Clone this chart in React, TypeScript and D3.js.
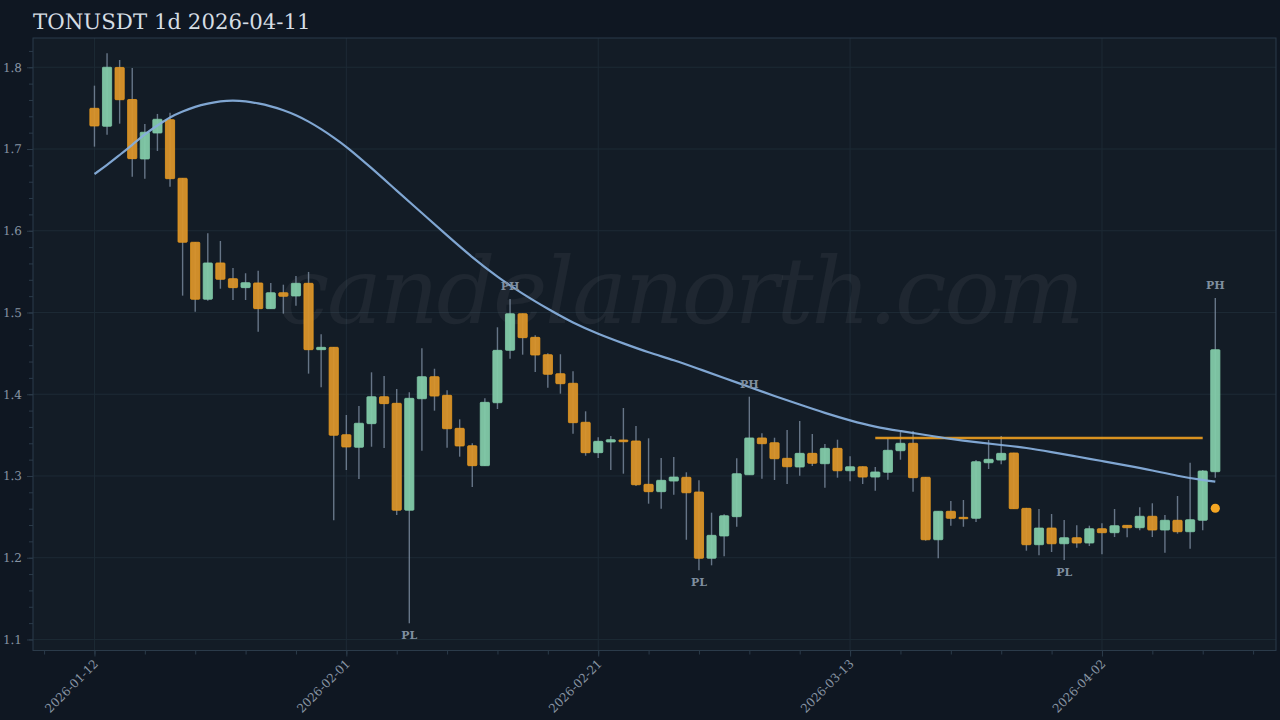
import { useEffect, useRef } from "react";
import * as d3 from "d3";

const WIDTH = 1280;
const HEIGHT = 720;
const MARGIN = { top: 38, right: 4, bottom: 69.5, left: 33 };

const opens = [
  1.7498, 1.7278, 1.7998, 1.7606, 1.6878, 1.7196, 1.7359, 1.6642, 1.5859, 1.5162,
  1.5606, 1.5414, 1.5304, 1.5361, 1.5047, 1.5242, 1.5202, 1.5357, 1.4545, 1.4574,
  1.3505, 1.3351, 1.364, 1.397, 1.3889, 1.2581, 1.3945, 1.4215, 1.3987, 1.3583,
  1.337, 1.3126, 1.3896, 1.4537, 1.4985, 1.4696, 1.4484, 1.4251, 1.4134, 1.3657,
  1.3285, 1.3416, 1.344, 1.3428, 1.2898, 1.2808, 1.2938, 1.2984, 1.2804, 1.1993,
  1.2266, 1.2502, 1.3015, 1.3465, 1.3407, 1.3216, 1.311, 1.3277, 1.315, 1.3338,
  1.3064, 1.3113, 1.2987, 1.3045, 1.3309, 1.34, 1.2984, 1.222, 1.2568, 1.2494,
  1.2482, 1.3162, 1.3195, 1.3281, 1.2604, 1.2159, 1.2363, 1.2171, 1.2245, 1.218,
  1.2355, 1.2306, 1.2396, 1.2367, 1.2507, 1.2339, 1.2458, 1.2318, 1.2458, 1.3052,
];
const highs = [
  1.7775, 1.8171, 1.8089, 1.7991, 1.7306, 1.7429, 1.7445, 1.6645, 1.5863, 1.5969,
  1.5875, 1.5545, 1.548, 1.5512, 1.5361, 1.534, 1.5447, 1.5496, 1.4734, 1.4578,
  1.3746, 1.3856, 1.4268, 1.4223, 1.4064, 1.4024, 1.4562, 1.4312, 1.4048, 1.3693,
  1.34, 1.395, 1.4819, 1.5165, 1.4988, 1.4721, 1.4501, 1.4489, 1.428, 1.3791,
  1.3473, 1.3489, 1.3832, 1.3611, 1.3461, 1.322, 1.3232, 1.3045, 1.2947, 1.2551,
  1.2531, 1.3216, 1.397, 1.3522, 1.3468, 1.3562, 1.3672, 1.3513, 1.3391, 1.3444,
  1.3241, 1.3118, 1.311, 1.3461, 1.3542, 1.355, 1.2988, 1.2571, 1.2694, 1.2706,
  1.3195, 1.344, 1.3489, 1.3285, 1.261, 1.2596, 1.2535, 1.2461, 1.2396, 1.2392,
  1.2421, 1.2596, 1.24, 1.2617, 1.2666, 1.2523, 1.2755, 1.3162, 1.3073, 1.5177,
];
const lows = [
  1.7029, 1.7175, 1.731, 1.6661, 1.6637, 1.6976, 1.6539, 1.5206, 1.501, 1.5144,
  1.5291, 1.5153, 1.5153, 1.4765, 1.5043, 1.4986, 1.5083, 1.4252, 1.4085, 1.2458,
  1.3073, 1.2963, 1.3358, 1.3342, 1.2523, 1.1198, 1.3309, 1.3799, 1.3346, 1.3236,
  1.2865, 1.3122, 1.3819, 1.4435, 1.4484, 1.4272, 1.408, 1.4007, 1.3517, 1.3248,
  1.322, 1.3073, 1.3028, 1.2877, 1.2661, 1.26, 1.2771, 1.222, 1.1846, 1.1907,
  1.2017, 1.2379, 1.3015, 1.2967, 1.2951, 1.2902, 1.3003, 1.3122, 1.2856, 1.2979,
  1.2935, 1.2902, 1.282, 1.2954, 1.3199, 1.2808, 1.2208, 1.1993, 1.2392, 1.2379,
  1.2437, 1.3085, 1.3143, 1.2595, 1.2086, 1.2029, 1.207, 1.1972, 1.2123, 1.2143,
  1.2042, 1.2253, 1.225, 1.2335, 1.2253, 1.2061, 1.2294, 1.211, 1.2335, 1.2979,
];
const closes = [
  1.7282, 1.8, 1.7603, 1.6882, 1.7205, 1.7364, 1.6637, 1.5859, 1.5162, 1.5606,
  1.5406, 1.5304, 1.5365, 1.5047, 1.5242, 1.5198, 1.5357, 1.4545, 1.4574, 1.3498,
  1.3355, 1.3645, 1.397, 1.3885, 1.2581, 1.395, 1.4215, 1.3978, 1.3578, 1.3367,
  1.3126, 1.3901, 1.4537, 1.4985, 1.4692, 1.448, 1.4244, 1.4129, 1.3652, 1.3285,
  1.3424, 1.3444, 1.3419, 1.2893, 1.2808, 1.2947, 1.2987, 1.2795, 1.1993, 1.2274,
  1.2514, 1.3028, 1.3465, 1.3395, 1.3211, 1.3113, 1.3277, 1.3155, 1.3338, 1.3064,
  1.3113, 1.2987, 1.3049, 1.3314, 1.34, 1.2979, 1.222, 1.2568, 1.2482, 1.2477,
  1.3175, 1.3204, 1.3277, 1.26, 1.2159, 1.2363, 1.2171, 1.2245, 1.218, 1.2355,
  1.2306, 1.2392, 1.2367, 1.2507, 1.2339, 1.2458, 1.2318, 1.2465, 1.3061, 1.4545,
];

// smoothed average
const avgDays = [
  0, 1, 2, 3, 4, 5, 6, 7, 8, 9, 10, 11, 12, 13, 14, 15, 16, 17, 18, 19, 20, 22, 24, 26,
  28, 30, 32, 34, 36, 38, 40, 42, 44, 46, 48, 50, 52, 54, 56, 58, 60, 62, 64, 66, 68,
  70, 72, 74, 76, 78, 80, 82, 84, 86, 88, 89,
];
const avgValues = [
  1.6694, 1.6804, 1.6927, 1.7049, 1.7184, 1.7288, 1.7392, 1.7459, 1.752, 1.7557, 1.7585,
  1.7595, 1.7584, 1.7559, 1.7524, 1.7477, 1.7416, 1.7337, 1.7245, 1.7141, 1.7031, 1.6768,
  1.649, 1.6217, 1.5942, 1.5673, 1.5434, 1.5226, 1.5043, 1.4871, 1.4737, 1.4621, 1.451,
  1.4419, 1.4309, 1.4199, 1.4088, 1.3978, 1.3874, 1.377, 1.3679, 1.3599, 1.355, 1.3501,
  1.3452, 1.3412, 1.3379, 1.3346, 1.3293, 1.3238, 1.3183, 1.3128, 1.3069, 1.3, 1.2951,
  1.293,
];

const pivotDays = [25, 33, 48, 52, 77, 89];
const pivotLabels = ["PL", "PH", "PL", "PH", "PL", "PH"];

const levelStart = 62;
const levelEnd = 88;
const levelPrice = 1.3464;
const lastDot = 1.2605;

const priceTicks = [1.1, 1.2, 1.3, 1.4, 1.5, 1.6, 1.7, 1.8];
const dayTicks = [0, 20, 40, 60, 80];
const dayLabels = ["2026-01-12", "2026-02-01", "2026-02-21", "2026-03-13", "2026-04-02"];
const minorDays = d3.range(-4, 93, 4);
const minorPrices = d3.range(1.1, 1.83, 0.02);

const SERIF = "'DejaVu Serif', serif";
const BG = "#0f1722";
const PANEL = "#131c26";
const GRID = "#1d2a35";
const SPINE = "#2b3b4a";
const TICK_TEXT = "#8794a3";
const GREEN = "#82caa8";
const ORANGE = "#d9942a";
const AMBER = "#f0a020";

export default function App() {
  const svgRef = useRef<SVGSVGElement>(null);

  useEffect(() => {
    if (!svgRef.current) return;
    const svg = d3.select(svgRef.current);
    svg.selectAll("*").remove();

    const innerW = WIDTH - MARGIN.left - MARGIN.right;
    const innerH = HEIGHT - MARGIN.top - MARGIN.bottom;

    const x = d3.scaleLinear().domain([-4.88, 93.82]).range([0, innerW]);
    const y = d3.scaleLinear().domain([1.0865, 1.8358]).range([innerH, 0]);

    svg.append("rect").attr("width", WIDTH).attr("height", HEIGHT).attr("fill", BG);

    svg
      .append("text")
      .attr("x", 33)
      .attr("y", 28.5)
      .attr("font-family", SERIF)
      .attr("font-size", 21.3)
      .attr("fill", "#d5dde4")
      .text("TONUSDT 1d 2026-04-11");

    const g = svg
      .append("g")
      .attr("transform", `translate(${MARGIN.left},${MARGIN.top})`);

    g.append("rect").attr("width", innerW).attr("height", innerH).attr("fill", PANEL);

    // Grid lines
    g.append("g")
      .selectAll("line")
      .data(priceTicks)
      .join("line")
      .attr("x1", 0)
      .attr("x2", innerW)
      .attr("y1", (d) => y(d))
      .attr("y2", (d) => y(d))
      .attr("stroke", GRID);

    g.append("g")
      .selectAll("line")
      .data(dayTicks)
      .join("line")
      .attr("x1", (d) => x(d))
      .attr("x2", (d) => x(d))
      .attr("y1", 0)
      .attr("y2", innerH)
      .attr("stroke", GRID);

    // Watermark
    g.append("text")
      .attr("x", 647)
      .attr("y", 285)
      .attr("text-anchor", "middle")
      .attr("font-family", SERIF)
      .attr("font-style", "italic")
      .attr("font-size", 92)
      .attr("letter-spacing", -2.3)
      .attr("fill", "#ffffff")
      .attr("fill-opacity", 0.052)
      .text("candelanorth.com");

    // Axes
    const minorX = g
      .append("g")
      .attr("transform", `translate(0,${innerH})`)
      .call(d3.axisBottom(x).tickValues(minorDays).tickSize(4).tickFormat(() => "").tickSizeOuter(0));
    minorX.select(".domain").remove();
    minorX.selectAll("line").attr("stroke", SPINE);

    const minorY = g
      .append("g")
      .call(d3.axisLeft(y).tickValues(minorPrices).tickSize(4).tickFormat(() => "").tickSizeOuter(0));
    minorY.select(".domain").remove();
    minorY.selectAll("line").attr("stroke", SPINE);

    const yAxis = g
      .append("g")
      .call(d3.axisLeft(y).tickValues(priceTicks).tickSize(6).tickPadding(5).tickFormat(d3.format(".1f")));
    yAxis.select(".domain").remove();
    yAxis.selectAll("line").attr("stroke", SPINE);
    yAxis
      .selectAll("text")
      .attr("font-family", SERIF)
      .attr("font-size", 12)
      .attr("fill", TICK_TEXT);

    const xAxis = g
      .append("g")
      .attr("transform", `translate(0,${innerH})`)
      .call(
        d3
          .axisBottom(x)
          .tickValues(dayTicks)
          .tickSize(6)
          .tickFormat((_, i) => dayLabels[i]),
      );
    xAxis.select(".domain").remove();
    xAxis.selectAll("line").attr("stroke", SPINE);
    xAxis
      .selectAll("text")
      .attr("font-family", SERIF)
      .attr("font-size", 12)
      .attr("fill", TICK_TEXT)
      .attr("text-anchor", "end")
      .attr("dx", 0)
      .attr("dy", 0)
      .attr("y", 0)
      .attr("transform", "translate(4,14) rotate(-45)");

    // Candles
    const days = d3.range(opens.length);
    const bodyW = 9.2;

    g.append("g")
      .selectAll("line")
      .data(days)
      .join("line")
      .attr("x1", (i) => x(i))
      .attr("x2", (i) => x(i))
      .attr("y1", (i) => y(highs[i]))
      .attr("y2", (i) => y(lows[i]))
      .attr("stroke", "#8a9bb0")
      .attr("stroke-opacity", 0.7)
      .attr("stroke-width", 1.4);

    g.append("g")
      .selectAll("rect")
      .data(days)
      .join("rect")
      .attr("x", (i) => x(i) - bodyW / 2)
      .attr("width", bodyW)
      .attr("y", (i) => y(Math.max(opens[i], closes[i])))
      .attr("height", (i) => Math.max(1, Math.abs(y(opens[i]) - y(closes[i]))))
      .attr("rx", 0.8)
      .attr("fill", (i) => (closes[i] >= opens[i] ? GREEN : ORANGE))
      .attr("fill-opacity", 0.95)
      .attr("stroke", (i) => (closes[i] >= opens[i] ? GREEN : "#e89a20"))
      .attr("stroke-width", 0.8);

    // Level line
    g.append("line")
      .attr("x1", x(levelStart))
      .attr("x2", x(levelEnd))
      .attr("y1", y(levelPrice))
      .attr("y2", y(levelPrice))
      .attr("stroke", AMBER)
      .attr("stroke-opacity", 0.9)
      .attr("stroke-width", 2.4);

    // Average line
    const avgLine = d3
      .line<number>()
      .x((d) => x(d))
      .y((_, i) => y(avgValues[i]))
      .curve(d3.curveBasis);

    g.append("path")
      .attr("d", avgLine(avgDays))
      .attr("fill", "none")
      .attr("stroke", "#86aedb")
      .attr("stroke-opacity", 0.95)
      .attr("stroke-width", 2.2);

    g.append("circle")
      .attr("cx", x(89))
      .attr("cy", y(lastDot))
      .attr("r", 4.6)
      .attr("fill", "#f5a623");

    // Pivot labels
    g.append("g")
      .selectAll("text")
      .data(pivotDays)
      .join("text")
      .attr("x", (d) => x(d))
      .attr("y", (d, i) => (pivotLabels[i] === "PH" ? y(highs[d]) - 9 : y(lows[d]) + 16))
      .attr("text-anchor", "middle")
      .attr("font-family", SERIF)
      .attr("font-weight", "bold")
      .attr("font-size", 11)
      .attr("fill", "#7f8e9f")
      .text((_, i) => pivotLabels[i]);

    // Spines
    g.append("rect")
      .attr("width", innerW)
      .attr("height", innerH)
      .attr("fill", "none")
      .attr("stroke", SPINE);

    svg.selectAll("text").attr("text-rendering", "geometricPrecision");
  }, []);

  return (
    <svg
      ref={svgRef}
      width={WIDTH}
      height={HEIGHT}
      style={{ position: "absolute", left: 0, top: 0, display: "block" }}
    />
  );
}
